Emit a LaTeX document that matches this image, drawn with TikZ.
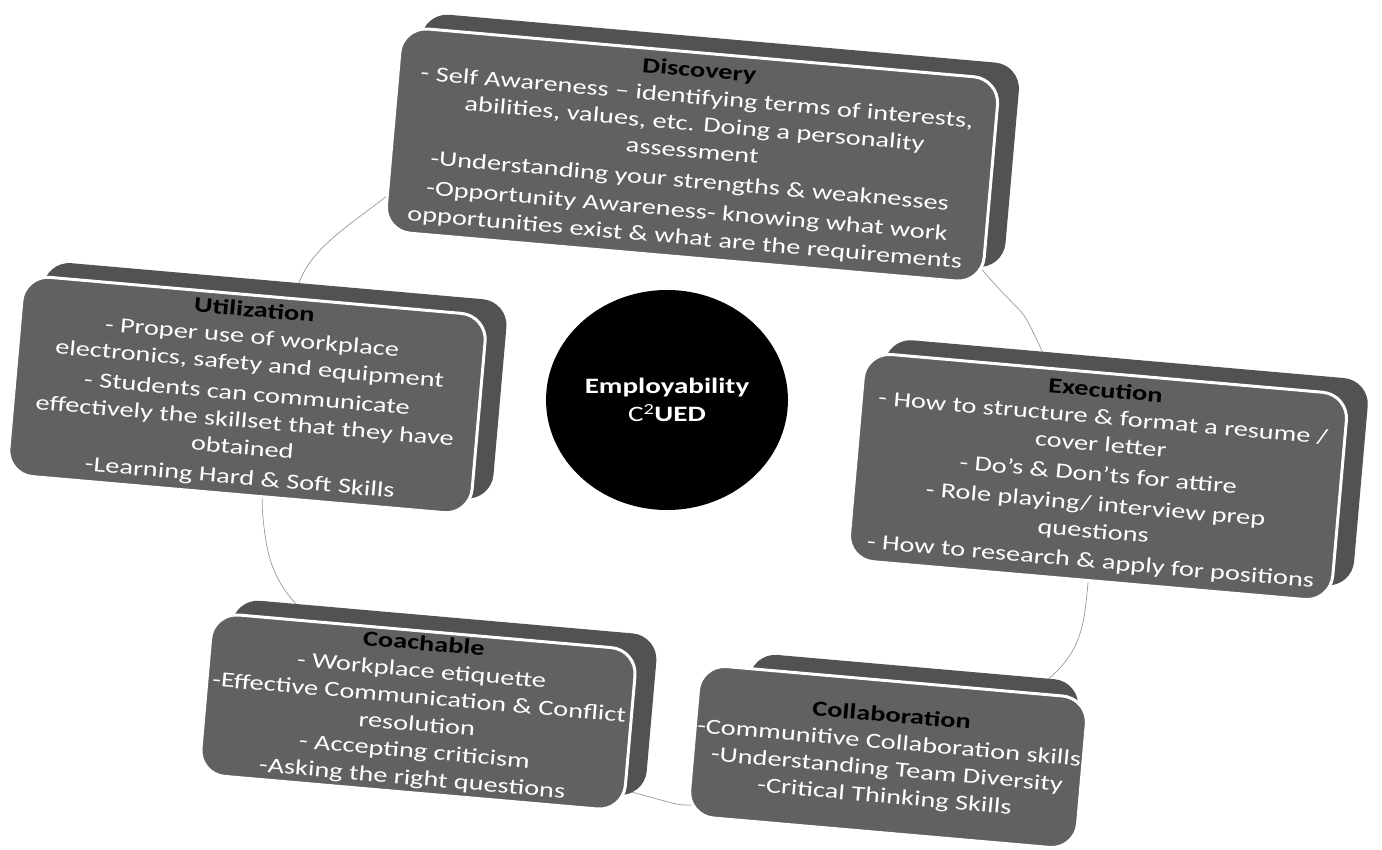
\documentclass[tikz,border=0pt]{standalone}
\usepackage{fontspec}
\setmainfont{Carlito}[FakeStretch=1.32]
\usetikzlibrary{shapes.geometric}
\newcommand\paneltitle[1]{\textcolor{black}{\textbf{#1}}}
\begin{document}
\begin{tikzpicture}[x=1pt, y=-1pt,
    slab/.style={rounded corners=26pt, rotate=-5, fill=black!62, draw=white, line width=3pt,
      text=white, align=center, inner sep=2pt, font=\fontsize{21.5}{27}\selectfont},
    slabback/.style={rounded corners=26pt, rotate=-5, fill=black!68, xshift=20pt, yshift=16pt}]
	\useasboundingbox (0,0) rectangle (1382,850);
	\draw[black!40, line width=0.7pt] plot[smooth cycle] coordinates {(305,270) (379,202) (500,120) (690,95) (870,160) (1002,292) (1033,332) (1080,450) (1088,583) (1058,670) (900,775) (715,803) (650,797) (450,730) (295,603) (263,518) (272,390)};
	% discovery
	\node[slabback, minimum width=600pt, minimum height=205pt] at (692,155) {};
	\node[slab, minimum width=600pt, minimum height=205pt] (disc) at (692,155)
		{\paneltitle{Discovery}\\- Self Awareness – identifying terms of interests,\\abilities, values, etc. Doing a personality\\assessment\\[3pt]-Understanding your strengths \& weaknesses\\[3pt]-Opportunity Awareness- knowing what work\\opportunities exist \& what are the requirements};
	% utilization
	\node[slabback, minimum width=465pt, minimum height=200pt] at (247,395) {};
	\node[slab, minimum width=465pt, minimum height=200pt] (util) at (247,395)
		{\paneltitle{Utilization}\\- Proper use of workplace\\electronics, safety and equipment\\[3pt]- Students can communicate\\effectively the skillset that they have\\obtained\\[3pt]-Learning Hard \& Soft Skills};
	% execution
	\node[slabback, minimum width=485pt, minimum height=208pt] at (1098,477) {};
	\node[slab, minimum width=485pt, minimum height=208pt] (exec) at (1098,477)
		{\paneltitle{Execution}\\- How to structure \& format a resume /\\cover letter\\[3pt]- Do’s \& Don’ts for attire\\[3pt]- Role playing/ interview prep\\questions\\[3pt]- How to research \& apply for positions};
	% coachable
	\node[slabback, minimum width=426pt, minimum height=162pt] at (418,712) {};
	\node[slab, minimum width=426pt, minimum height=162pt] (coach) at (418,712)
		{\paneltitle{Coachable}\\- Workplace etiquette\\-Effective Communication \& Conflict\\resolution\\- Accepting criticism\\-Asking the right questions};
	% collaboration
	\node[slabback, minimum width=330pt, minimum height=152pt] at (888,757) {};
	\node[slab, minimum width=330pt, minimum height=152pt] (collab) at (888,757)
		{\paneltitle{Collaboration}\\-Communitive Collaboration skills\\-Understanding Team Diversity\\-Critical Thinking Skills};
	\node[ellipse, fill=black, minimum width=224pt, minimum height=220pt, text=white, align=center,
		font=\fontsize{22}{28}\selectfont] (core) at (667,400) {\textbf{Employability}\\C\textsuperscript{2}\textbf{UED}};
\end{tikzpicture}
\end{document}
